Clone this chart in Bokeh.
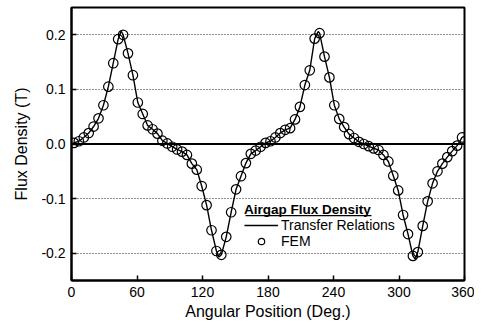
from bokeh.plotting import figure
from bokeh.models import (FixedTicker, PrintfTickFormatter, Span, Legend, LegendItem,
                          Range1d, BoxAnnotation)
from bokeh.embed import file_html
from bokeh.resources import INLINE

# ---- data ----
fem_x = [2.25, 6.75, 11.25, 15.75, 20.25, 24.75, 29.25, 33.75, 38.25, 42.75,
         47.25, 51.75, 56.25, 60.75, 65.25, 69.75, 74.25, 78.75, 83.25, 87.75,
         92.25, 96.75, 101.25, 105.75, 110.25, 114.75, 119.25, 123.75, 128.25, 132.75,
         137.25, 141.75, 146.25, 150.75, 155.25, 159.75, 164.25, 168.75, 173.25, 177.75,
         182.25, 186.75, 191.25, 195.75, 200.25, 204.75, 209.25, 213.75, 218.25, 222.75,
         227.25, 231.75, 236.25, 240.75, 245.25, 249.75, 254.25, 258.75, 263.25, 267.75,
         272.25, 276.75, 281.25, 285.75, 290.25, 294.75, 299.25, 303.75, 308.25, 312.75,
         317.25, 321.75, 326.25, 330.75, 335.25, 339.75, 344.25, 348.75, 353.25, 357.75]
fem_y = [0.002, 0.005, 0.012, 0.020, 0.032, 0.047, 0.071, 0.105, 0.148, 0.192,
         0.200, 0.166, 0.126, 0.076, 0.055, 0.034, 0.027, 0.019, 0.006, 0.001,
         -0.005, -0.010, -0.014, -0.020, -0.036, -0.047, -0.077, -0.112, -0.158, -0.196,
         -0.203, -0.170, -0.125, -0.083, -0.059, -0.035, -0.018, -0.012, -0.005, 0.002,
         0.005, 0.012, 0.020, 0.026, 0.029, 0.045, 0.068, 0.108, 0.135, 0.193,
         0.203, 0.160, 0.122, 0.071, 0.046, 0.031, 0.018, 0.011, 0.004, 0.000,
         -0.004, -0.008, -0.011, -0.020, -0.032, -0.058, -0.085, -0.130, -0.165, -0.205,
         -0.198, -0.150, -0.105, -0.072, -0.050, -0.036, -0.024, -0.013, -0.003, 0.012]

# extra points of the transfer-relations curve (cusps and ends)
cusp_x = [0.0, 45.5, 135.0, 226.0, 314.8, 360.0]
cusp_y = [0.000, 0.207, -0.207, 0.206, -0.211, 0.014]

x_ticks = [0, 60, 120, 180, 240, 300, 360]
y_ticks = [-0.2, -0.1, 0.0, 0.1, 0.2]
grid_ticks = [-0.2, -0.1, 0.1, 0.2]

pairs = sorted(list(zip(fem_x, fem_y)) + list(zip(cusp_x, cusp_y)))
line_x = [a for a, b in pairs]
line_y = [b for a, b in pairs]

FONT = "Liberation Sans"

p = figure(width=474, height=323, output_backend="svg", toolbar_location=None,
           x_range=Range1d(0, 360), y_range=Range1d(-0.25, 0.25))
p.min_border = 0
p.min_border_left = 71
p.min_border_right = 10
p.min_border_top = 7
p.min_border_bottom = 43
p.background_fill_color = "white"
p.border_fill_color = "white"
p.outline_line_color = "black"
p.outline_line_width = 2

# grid
p.xgrid.visible = False
p.ygrid.ticker = FixedTicker(ticks=grid_ticks)
p.ygrid.grid_line_color = "#222222"
p.ygrid.grid_line_dash = "1 2"
p.ygrid.grid_line_width = 1

zero = Span(location=0, dimension="width", line_color="black", line_width=2)
p.add_layout(zero)

# axes
for ax in (p.xaxis[0], p.yaxis[0]):
    ax.axis_line_color = "black"
    ax.axis_line_width = 2
    ax.major_tick_in = 5
    ax.major_tick_out = 0
    ax.major_tick_line_width = 1.5
    ax.minor_tick_line_color = None
    ax.major_label_text_font = FONT
    ax.major_label_text_font_size = "14px"
    ax.major_label_text_color = "black"
    ax.axis_label_text_font = FONT
    ax.axis_label_text_font_size = "16px"
    ax.axis_label_text_font_style = "normal"
    ax.axis_label_text_color = "black"

p.xaxis.ticker = FixedTicker(ticks=x_ticks)
p.xaxis.axis_label = "Angular Position (Deg.)"
p.xaxis.major_label_standoff = 6
p.xaxis.axis_label_standoff = 3
p.yaxis.ticker = FixedTicker(ticks=y_ticks)
p.yaxis.formatter = PrintfTickFormatter(format="%.1f")
p.yaxis.axis_label = "Flux Density (T)"
p.yaxis.major_label_standoff = 6
p.yaxis.axis_label_standoff = 8

# data
r_line = p.line(line_x, line_y, line_color="black", line_width=1.4)
r_fem = p.scatter(fem_x, fem_y, marker="circle", size=9.5, fill_color=None,
                  line_color="black", line_width=1.2)

legend = Legend(items=[LegendItem(label="Transfer Relations", renderers=[r_line]),
                       LegendItem(label="FEM", renderers=[r_fem])],
                location=(173, 31), title="Airgap Flux Density")
legend.title_text_font = FONT
legend.title_text_font_style = "bold"
legend.title_text_font_size = "13.5px"
legend.title_text_color = "black"
legend.title_standoff = 0
legend.label_text_font = FONT
legend.label_text_font_size = "14px"
legend.label_text_color = "black"
legend.border_line_color = None
legend.background_fill_alpha = 0
legend.padding = 0
legend.margin = 0
legend.spacing = 0
legend.glyph_width = 34
legend.glyph_height = 16
legend.label_height = 16
legend.label_standoff = 3
p.add_layout(legend)

underline = BoxAnnotation(left=245, right=371, top=214.5, bottom=215.8,
                          left_units="canvas", right_units="canvas",
                          top_units="canvas", bottom_units="canvas",
                          fill_color="black", fill_alpha=1, line_color=None)
p.add_layout(underline)

open("out.html", "w").write(file_html(p, INLINE))
